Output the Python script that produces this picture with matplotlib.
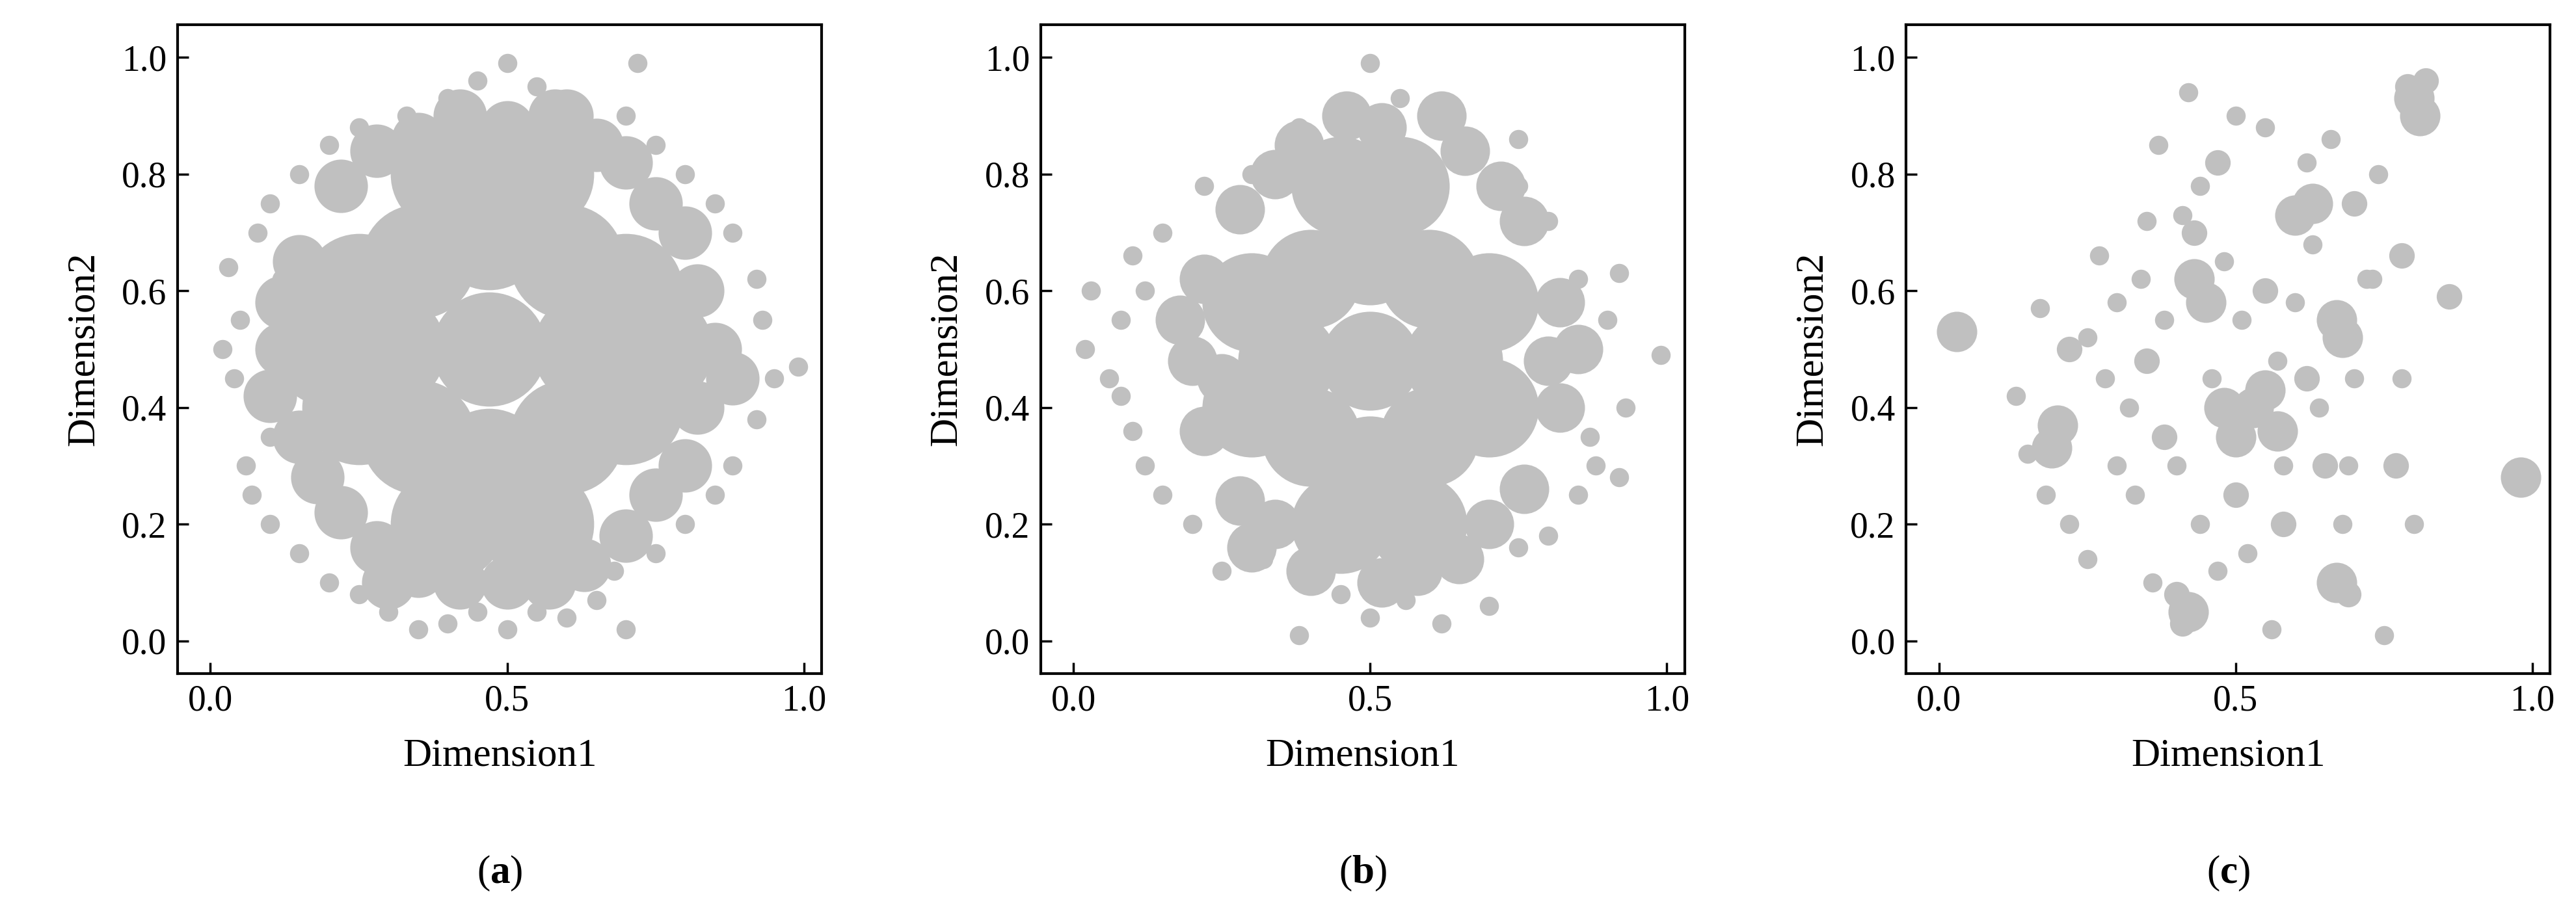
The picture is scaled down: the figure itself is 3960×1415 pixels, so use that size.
import matplotlib.pyplot as plt

plt.rcParams['font.family'] = ['Liberation Serif', 'DejaVu Serif']
plt.rcParams['mathtext.fontset'] = 'custom'
plt.rcParams['mathtext.rm'] = 'Liberation Serif'
plt.rcParams['mathtext.bf'] = 'Liberation Serif:bold'

# Points (dense cores, middle rings, sparse edges)
a_core_x = [0.47, 0.30, 0.64, 0.47, 0.47, 0.35, 0.60, 0.35, 0.60, 0.25, 0.25, 0.70, 0.70, 0.40, 0.55, 0.40, 0.55, 0.20, 0.75]
a_core_y = [0.50, 0.50, 0.50, 0.30, 0.70, 0.35, 0.35, 0.65, 0.65, 0.40, 0.60, 0.40, 0.60, 0.20, 0.20, 0.80, 0.80, 0.50, 0.50]
a_mid_x = [0.12, 0.15, 0.15, 0.22, 0.22, 0.35, 0.35, 0.50, 0.50, 0.63, 0.65, 0.75, 0.75, 0.82, 0.82, 0.85, 0.10, 0.30, 0.60,
           0.18, 0.28, 0.28, 0.42, 0.42, 0.57, 0.58, 0.70, 0.70, 0.80, 0.80, 0.12, 0.88]
a_mid_y = [0.50, 0.35, 0.65, 0.22, 0.78, 0.12, 0.86, 0.10, 0.88, 0.13, 0.85, 0.25, 0.75, 0.40, 0.60, 0.50, 0.42, 0.10, 0.90,
           0.28, 0.16, 0.84, 0.10, 0.90, 0.10, 0.90, 0.18, 0.82, 0.30, 0.70, 0.58, 0.45]
a_edge_x = [0.03, 0.02, 0.04, 0.06, 0.07, 0.10, 0.15, 0.20, 0.25, 0.30, 0.35, 0.40, 0.45, 0.50, 0.55, 0.60, 0.65, 0.70, 0.68,
            0.75, 0.80, 0.85, 0.88, 0.92, 0.95, 0.99, 0.93, 0.92, 0.88, 0.85, 0.80, 0.75, 0.70, 0.60, 0.55, 0.50, 0.45, 0.40,
            0.33, 0.25, 0.20, 0.15, 0.10, 0.08, 0.12, 0.05, 0.10, 0.72]
a_edge_y = [0.64, 0.50, 0.45, 0.30, 0.25, 0.20, 0.15, 0.10, 0.08, 0.05, 0.02, 0.03, 0.05, 0.02, 0.05, 0.04, 0.07, 0.02, 0.12,
            0.15, 0.20, 0.25, 0.30, 0.38, 0.45, 0.47, 0.55, 0.62, 0.70, 0.75, 0.80, 0.85, 0.90, 0.92, 0.95, 0.99, 0.96, 0.93,
            0.90, 0.88, 0.85, 0.80, 0.75, 0.70, 0.62, 0.55, 0.35, 0.99]

b_core_x = [0.50, 0.36, 0.64, 0.50, 0.50, 0.40, 0.60, 0.40, 0.60, 0.30, 0.30, 0.70, 0.70, 0.45, 0.58, 0.45, 0.55]
b_core_y = [0.48, 0.48, 0.48, 0.30, 0.66, 0.35, 0.35, 0.62, 0.62, 0.40, 0.58, 0.40, 0.58, 0.20, 0.20, 0.78, 0.78]
b_mid_x = [0.20, 0.22, 0.22, 0.28, 0.28, 0.40, 0.38, 0.52, 0.52, 0.65, 0.66, 0.76, 0.76, 0.82, 0.82, 0.18, 0.30, 0.62,
           0.34, 0.34, 0.46, 0.58, 0.70, 0.72, 0.80, 0.25, 0.85]
b_mid_y = [0.48, 0.36, 0.62, 0.24, 0.74, 0.12, 0.85, 0.10, 0.88, 0.14, 0.84, 0.26, 0.72, 0.40, 0.58, 0.55, 0.16, 0.90,
           0.20, 0.80, 0.90, 0.12, 0.20, 0.78, 0.48, 0.45, 0.50]
b_edge_x = [0.03, 0.02, 0.06, 0.08, 0.10, 0.12, 0.15, 0.20, 0.25, 0.32, 0.38, 0.45, 0.50, 0.56, 0.62, 0.70, 0.75, 0.80,
            0.85, 0.88, 0.92, 0.93, 0.99, 0.90, 0.85, 0.80, 0.75, 0.68, 0.60, 0.55, 0.50, 0.45, 0.38, 0.30, 0.22, 0.15,
            0.10, 0.08, 0.12, 0.92, 0.87, 0.75]
b_edge_y = [0.60, 0.50, 0.45, 0.42, 0.36, 0.30, 0.25, 0.20, 0.12, 0.14, 0.01, 0.08, 0.04, 0.07, 0.03, 0.06, 0.16, 0.18,
            0.25, 0.30, 0.28, 0.40, 0.49, 0.55, 0.62, 0.72, 0.78, 0.85, 0.90, 0.93, 0.99, 0.92, 0.88, 0.80, 0.78, 0.70,
            0.66, 0.55, 0.60, 0.63, 0.35, 0.86]

c_core_x = [0.53, 0.50, 0.57, 0.45, 0.43, 0.80, 0.81, 0.60, 0.63, 0.67, 0.68, 0.20, 0.19, 0.98, 0.03, 0.42, 0.67, 0.55, 0.48]
c_core_y = [0.40, 0.35, 0.36, 0.58, 0.62, 0.93, 0.90, 0.73, 0.75, 0.55, 0.52, 0.37, 0.33, 0.28, 0.53, 0.05, 0.10, 0.43, 0.40]
c_mid_x = [0.77, 0.78, 0.86, 0.50, 0.58, 0.38, 0.62, 0.47, 0.55, 0.43, 0.22, 0.35, 0.65, 0.82, 0.70, 0.40, 0.79, 0.41, 0.69]
c_mid_y = [0.30, 0.66, 0.59, 0.25, 0.20, 0.35, 0.45, 0.82, 0.60, 0.70, 0.50, 0.48, 0.30, 0.96, 0.75, 0.08, 0.95, 0.03, 0.08]
c_edge_x = [0.13, 0.15, 0.17, 0.18, 0.22, 0.25, 0.27, 0.28, 0.30, 0.32, 0.33, 0.35, 0.37, 0.38, 0.40, 0.42, 0.44, 0.46,
            0.48, 0.50, 0.52, 0.55, 0.56, 0.58, 0.60, 0.62, 0.64, 0.66, 0.68, 0.70, 0.72, 0.74, 0.75, 0.78, 0.80, 0.25,
            0.30, 0.36, 0.44, 0.57, 0.63, 0.69, 0.73, 0.51, 0.47, 0.34, 0.41]
c_edge_y = [0.42, 0.32, 0.57, 0.25, 0.20, 0.14, 0.66, 0.45, 0.58, 0.40, 0.25, 0.72, 0.85, 0.55, 0.30, 0.94, 0.78, 0.45,
            0.65, 0.90, 0.15, 0.88, 0.02, 0.30, 0.58, 0.82, 0.40, 0.86, 0.20, 0.45, 0.62, 0.80, 0.01, 0.45, 0.20, 0.52,
            0.30, 0.10, 0.20, 0.48, 0.68, 0.30, 0.62, 0.55, 0.12, 0.62, 0.73]

panels = [
    ('a', (a_core_x, a_core_y), (a_mid_x, a_mid_y), (a_edge_x, a_edge_y), 16000, 3500),
    ('b', (b_core_x, b_core_y), (b_mid_x, b_mid_y), (b_edge_x, b_edge_y), 12000, 3000),
    ('c', (c_core_x, c_core_y), (c_mid_x, c_mid_y), (c_edge_x, c_edge_y), 2000, 800),
]
lefts = [0.069, 0.404, 0.740]
grey = '#c0c0c0'

fig = plt.figure(figsize=(39.6, 14.15), dpi=100)
for (lab, core, mid, edge, core_s, mid_s), left in zip(panels, lefts):
    ax = fig.add_axes([left, 0.268, 0.25, 0.705])
    ax.scatter(*core, s=core_s, color=grey, linewidths=0)
    ax.scatter(*mid, s=mid_s, color=grey, linewidths=0)
    ax.scatter(*edge, s=450, color=grey, linewidths=0)
    ax.set_xlim(-0.055, 1.03)
    ax.set_ylim(-0.056, 1.056)
    ax.set_xticks([0.0, 0.5, 1.0])
    ax.set_yticks([0.0, 0.2, 0.4, 0.6, 0.8, 1.0])
    ax.tick_params(direction='in', length=12, width=2.5, labelsize=40, pad=12)
    for sp in ax.spines.values():
        sp.set_linewidth(3)
    ax.set_xlabel('Dimension1', fontsize=44, labelpad=22)
    ax.set_ylabel('Dimension2', fontsize=44, labelpad=22)
    fig.text(left + 0.125, 0.04, '($\\mathbf{%s}$)' % lab, fontsize=44, ha='center')

fig.savefig('out.png', dpi=100)
